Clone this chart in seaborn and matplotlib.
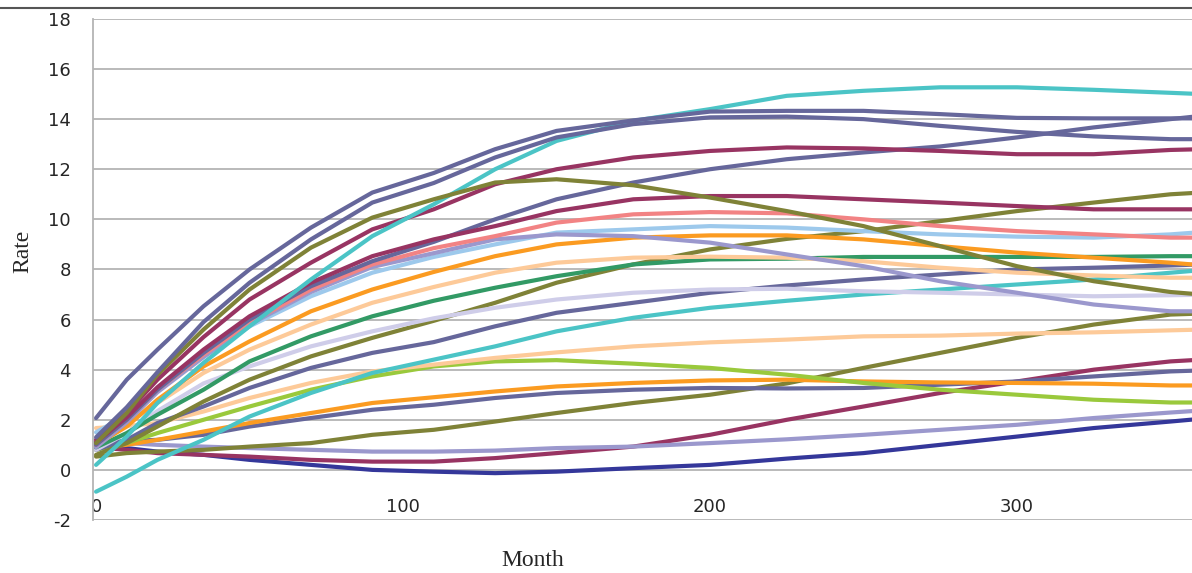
import pandas as pd
import matplotlib
matplotlib.use("Agg")
import matplotlib.pyplot as plt
from matplotlib.lines import Line2D
import seaborn as sns

months = [0, 10, 20, 35, 50, 70, 90, 110, 130, 150, 175, 200, 225, 250, 275, 300, 325, 350, 360]

slate_a = [2.07, 3.6, 4.8, 6.53, 8.0, 9.67, 11.07, 11.85, 12.8, 13.53, 13.95, 14.3, 14.33, 14.33, 14.2, 14.05, 14.03, 14.03, 14.03]
slate_b = [1.3, 2.5, 3.9, 5.9, 7.47, 9.2, 10.67, 11.45, 12.47, 13.27, 13.8, 14.07, 14.1, 14.0, 13.73, 13.49, 13.31, 13.2, 13.2]
olive_hump = [1.07, 2.27, 3.8, 5.6, 7.2, 8.87, 10.07, 10.8, 11.47, 11.6, 11.36, 10.87, 10.33, 9.73, 8.93, 8.13, 7.53, 7.1, 7.0]
aqua_top = [0.2, 1.33, 2.67, 4.27, 5.73, 7.6, 9.33, 10.6, 12.0, 13.13, 13.93, 14.4, 14.93, 15.13, 15.27, 15.27, 15.17, 15.05, 15.0]
plum_top = [1.2, 2.27, 3.6, 5.3, 6.8, 8.27, 9.6, 10.4, 11.4, 12.0, 12.47, 12.73, 12.87, 12.83, 12.73, 12.6, 12.6, 12.77, 12.8]
plum_b = [1.1, 2.1, 3.3, 4.8, 6.13, 7.47, 8.53, 9.2, 9.73, 10.33, 10.8, 10.93, 10.93, 10.8, 10.67, 10.53, 10.4, 10.4, 10.4]
slate_c = [1.0, 2.0, 3.2, 4.67, 6.0, 7.33, 8.33, 9.1, 10.0, 10.8, 11.47, 12.0, 12.4, 12.67, 12.91, 13.27, 13.67, 14.0, 14.13]
salmon = [1.0, 2.0, 3.2, 4.6, 5.87, 7.2, 8.2, 8.85, 9.33, 9.87, 10.2, 10.29, 10.24, 10.0, 9.73, 9.53, 9.4, 9.27, 9.27]
periwinkle = [0.9, 1.9, 3.1, 4.5, 5.8, 7.1, 8.1, 8.65, 9.2, 9.4, 9.33, 9.07, 8.6, 8.13, 7.53, 7.07, 6.6, 6.33, 6.33]
light_blue = [1.5, 2.2, 3.2, 4.53, 5.73, 6.93, 7.87, 8.5, 9.0, 9.47, 9.6, 9.73, 9.67, 9.53, 9.4, 9.31, 9.27, 9.4, 9.49]
orange = [1.0, 1.73, 2.8, 4.13, 5.13, 6.33, 7.2, 7.9, 8.53, 9.0, 9.27, 9.36, 9.36, 9.2, 8.93, 8.67, 8.47, 8.27, 8.17]
peach = [1.2, 1.87, 2.67, 3.87, 4.8, 5.8, 6.67, 7.3, 7.87, 8.27, 8.47, 8.51, 8.47, 8.33, 8.07, 7.87, 7.76, 7.67, 7.67]
green = [0.9, 1.47, 2.2, 3.2, 4.33, 5.33, 6.13, 6.75, 7.27, 7.73, 8.2, 8.4, 8.43, 8.5, 8.5, 8.5, 8.5, 8.53, 8.53]
lavender = [0.8, 1.47, 2.35, 3.45, 4.13, 4.93, 5.53, 6.05, 6.47, 6.8, 7.07, 7.2, 7.23, 7.13, 7.07, 7.0, 6.93, 6.97, 6.99]
olive_mid = [0.6, 1.07, 1.73, 2.73, 3.6, 4.53, 5.27, 5.95, 6.67, 7.47, 8.2, 8.8, 9.22, 9.53, 9.93, 10.33, 10.67, 11.0, 11.07]
slate_d = [0.8, 1.2, 1.87, 2.53, 3.27, 4.07, 4.67, 5.1, 5.73, 6.27, 6.67, 7.07, 7.36, 7.6, 7.8, 8.0, 8.07, 8.16, 8.2]
aqua_low = [-0.87, -0.27, 0.4, 1.2, 2.13, 3.07, 3.87, 4.4, 4.93, 5.53, 6.07, 6.47, 6.75, 7.0, 7.2, 7.4, 7.6, 7.87, 7.97]
peach_low = [1.67, 1.75, 1.87, 2.33, 2.87, 3.47, 3.93, 4.2, 4.47, 4.69, 4.93, 5.09, 5.2, 5.33, 5.36, 5.44, 5.49, 5.57, 5.6]
lime = [0.8, 1.07, 1.47, 2.0, 2.53, 3.2, 3.73, 4.13, 4.33, 4.38, 4.24, 4.07, 3.8, 3.47, 3.2, 3.0, 2.8, 2.69, 2.69]
orange_low = [0.9, 1.0, 1.2, 1.53, 1.87, 2.27, 2.67, 2.9, 3.13, 3.33, 3.47, 3.57, 3.6, 3.53, 3.49, 3.47, 3.44, 3.37, 3.37]
slate_e = [1.1, 1.15, 1.2, 1.4, 1.73, 2.07, 2.4, 2.6, 2.87, 3.07, 3.2, 3.27, 3.25, 3.27, 3.4, 3.53, 3.73, 3.93, 3.97]
olive_low = [0.53, 0.67, 0.73, 0.8, 0.93, 1.07, 1.4, 1.6, 1.93, 2.27, 2.67, 3.0, 3.45, 4.07, 4.67, 5.27, 5.8, 6.2, 6.24]
peri_low = [1.1, 1.07, 1.0, 0.93, 0.87, 0.8, 0.73, 0.73, 0.77, 0.87, 0.93, 1.07, 1.22, 1.4, 1.6, 1.8, 2.07, 2.29, 2.37]
plum_low = [0.9, 0.8, 0.67, 0.6, 0.53, 0.4, 0.33, 0.33, 0.47, 0.67, 0.93, 1.4, 2.0, 2.53, 3.07, 3.53, 4.0, 4.33, 4.4]
navy = [0.95, 0.87, 0.73, 0.6, 0.4, 0.2, 0.0, -0.07, -0.13, -0.07, 0.07, 0.2, 0.45, 0.67, 1.0, 1.33, 1.67, 1.93, 2.04]

SLATE, PLUM, OLIVE, AQUA = "#66679b", "#983462", "#7f8237", "#4bc4c6"

# name -> (values, colour)
series = {
    "navy": (navy, "#34379a"),
    "plum_low": (plum_low, PLUM),
    "peri_low": (peri_low, "#9b98cd"),
    "olive_low": (olive_low, OLIVE),
    "slate_e": (slate_e, SLATE),
    "orange_low": (orange_low, "#fb9b21"),
    "lime": (lime, "#9ac93c"),
    "peach_low": (peach_low, "#fdca99"),
    "aqua_low": (aqua_low, AQUA),
    "slate_d": (slate_d, SLATE),
    "olive_mid": (olive_mid, OLIVE),
    "lavender": (lavender, "#cfcde9"),
    "green": (green, "#329a65"),
    "peach": (peach, "#fdca99"),
    "orange": (orange, "#fb9b21"),
    "light_blue": (light_blue, "#9dc9ec"),
    "periwinkle": (periwinkle, "#9b98cd"),
    "salmon": (salmon, "#f28384"),
    "slate_c": (slate_c, SLATE),
    "plum_b": (plum_b, PLUM),
    "plum_top": (plum_top, PLUM),
    "aqua_top": (aqua_top, AQUA),
    "olive_hump": (olive_hump, OLIVE),
    "slate_b": (slate_b, SLATE),
    "slate_a": (slate_a, SLATE),
}

rows = []
for name, (vals, _) in series.items():
    for m, v in zip(months, vals):
        rows.append({"month": m, "rate": v, "series": name})
df = pd.DataFrame(rows)
palette = {name: c for name, (_, c) in series.items()}

sns.set_style("white")
plt.rcParams["font.family"] = ["DejaVu Sans"]
plt.rcParams["axes.unicode_minus"] = False

fig = plt.figure(figsize=(11.92, 5.73), dpi=100)
ax = fig.add_axes([0.078, 0.0925, 0.922, 0.8745])

sns.lineplot(data=df, x="month", y="rate", hue="series", palette=palette,
             estimator=None, sort=False, linewidth=3, legend=False, ax=ax)

ax.set_xlim(-1, 357)
ax.set_ylim(-2, 18)
ax.set_yticks(range(-2, 19, 2))
ax.set_xticks([0, 100, 200, 300])
ax.yaxis.grid(True, color="#b4b4b4", linewidth=1.3)
ax.set_axisbelow(True)
for s in ["top", "right", "bottom"]:
    ax.spines[s].set_visible(False)
ax.spines["left"].set_color("#b4b4b4")
ax.spines["left"].set_linewidth(1.3)

ax.tick_params(axis="y", length=0, pad=16, labelsize=13)
ax.tick_params(axis="x", length=0, pad=-16, labelsize=13)

ax.set_xlabel("")
ax.set_ylabel("")
fig.text(0.019, 0.562, "Rate", rotation=90, ha="center", va="center",
         family="Liberation Serif", fontsize=17)
fig.text(0.447, 0.022, "Month", ha="center", va="center",
         family="Liberation Serif", fontsize=17)

fig.add_artist(Line2D([0, 1], [0.986, 0.986], transform=fig.transFigure,
                      color="#555555", linewidth=1.5))

fig.savefig("out.png", dpi=100)
